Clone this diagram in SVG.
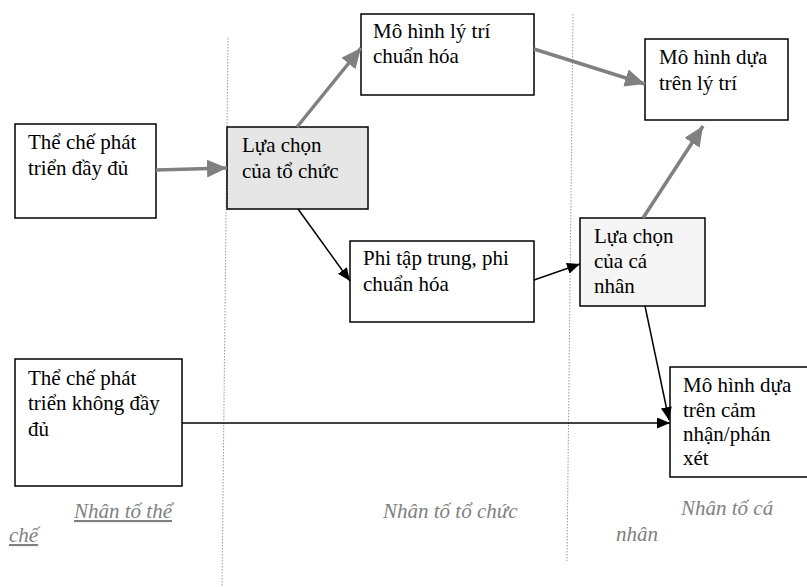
<svg xmlns="http://www.w3.org/2000/svg" width="807" height="587" viewBox="0 0 807 587">
<style>
.box{fill:#fff;stroke:#000;stroke-width:1.5}
.t{font-size:21px;fill:#000}
.lbl{font-size:21px;font-style:italic;fill:#808080}
.g{stroke:#808080;stroke-width:3.5;fill:none}
.k{stroke:#000;stroke-width:1.5;fill:none}
.dot{stroke:#999;stroke-width:1;stroke-dasharray:1.5 1.5;fill:none}
</style>
<defs>
<marker id="ag" markerUnits="userSpaceOnUse" markerWidth="22" markerHeight="20" refX="20" refY="9" orient="auto"><path d="M0,0 L20,9 L0,18 Z" fill="#808080"/></marker>
<marker id="ak" markerUnits="userSpaceOnUse" markerWidth="14" markerHeight="12" refX="13" refY="5.5" orient="auto"><path d="M0,0 L13,5.5 L0,11 Z" fill="#000"/></marker>
</defs>
<g id="dividers">
<line class="dot" x1="228" y1="38" x2="222" y2="586"/>
<line class="dot" x1="573" y1="14" x2="567" y2="561"/>
</g>
<g font-family="'Liberation Serif', 'Times New Roman', Tinos, serif">
<g id="n1"><rect class="box" x="15" y="124" width="141" height="94"/><text class="t" x="28" y="149">Thể chế phát</text><text class="t" x="28" y="175">triển đầy đủ</text></g>
<g id="n2"><rect class="box" x="227" y="127" width="141" height="82" style="fill:#e6e6e6"/><text class="t" x="242" y="152">Lựa chọn</text><text class="t" x="242" y="178">của tổ chức</text></g>
<g id="n3"><rect class="box" x="361" y="14" width="173" height="81"/><text class="t" x="373" y="38">Mô hình lý trí</text><text class="t" x="373" y="63">chuẩn hóa</text></g>
<g id="n4"><rect class="box" x="350" y="241" width="184" height="81"/><text class="t" x="363" y="265">Phi tập trung, phi</text><text class="t" x="363" y="291">chuẩn hóa</text></g>
<g id="n5"><rect class="box" x="645" y="39" width="143" height="81"/><text class="t" x="659" y="64">Mô hình dựa</text><text class="t" x="659" y="90">trên lý trí</text></g>
<g id="n6"><rect class="box" x="580" y="218" width="125" height="88" style="fill:#f5f5f5"/><text class="t" x="594" y="243">Lựa chọn</text><text class="t" x="594" y="268">của cá</text><text class="t" x="594" y="293">nhân</text></g>
<g id="n7"><rect class="box" x="15" y="359" width="167" height="127"/><text class="t" x="28" y="385">Thể chế phát</text><text class="t" x="28" y="410">triển không đầy</text><text class="t" x="28" y="436">đủ</text></g>
<g id="n8"><rect class="box" x="670" y="367" width="140" height="110"/><text class="t" x="683" y="392">Mô hình dựa</text><text class="t" x="683" y="417">trên cảm</text><text class="t" x="683" y="441">nhận/phán</text><text class="t" x="683" y="465">xét</text></g>
<g id="labels">
<text class="lbl" x="74" y="518" text-decoration="underline">Nhân tố thể</text>
<text class="lbl" x="9" y="542" text-decoration="underline">chế</text>
<text class="lbl" x="383" y="518">Nhân tố tổ chức</text>
<text class="lbl" x="681" y="515">Nhân tố cá</text>
<text class="lbl" x="616" y="541">nhân</text>
</g>
</g>
<g id="connectors">
<line class="g" x1="156" y1="170" x2="227" y2="168" marker-end="url(#ag)"/>
<line class="g" x1="297" y1="127" x2="361" y2="48" marker-end="url(#ag)"/>
<line class="g" x1="534" y1="49" x2="645" y2="84" marker-end="url(#ag)"/>
<line class="g" x1="643" y1="218" x2="703" y2="126" marker-end="url(#ag)"/>
<line class="k" x1="298" y1="209" x2="350" y2="281" marker-end="url(#ak)"/>
<line class="k" x1="534" y1="280" x2="580" y2="264" marker-end="url(#ak)"/>
<line class="k" x1="645" y1="306" x2="669" y2="420" marker-end="url(#ak)"/>
<line class="k" x1="182" y1="423" x2="670" y2="423" marker-end="url(#ak)"/>
</g>
</svg>
